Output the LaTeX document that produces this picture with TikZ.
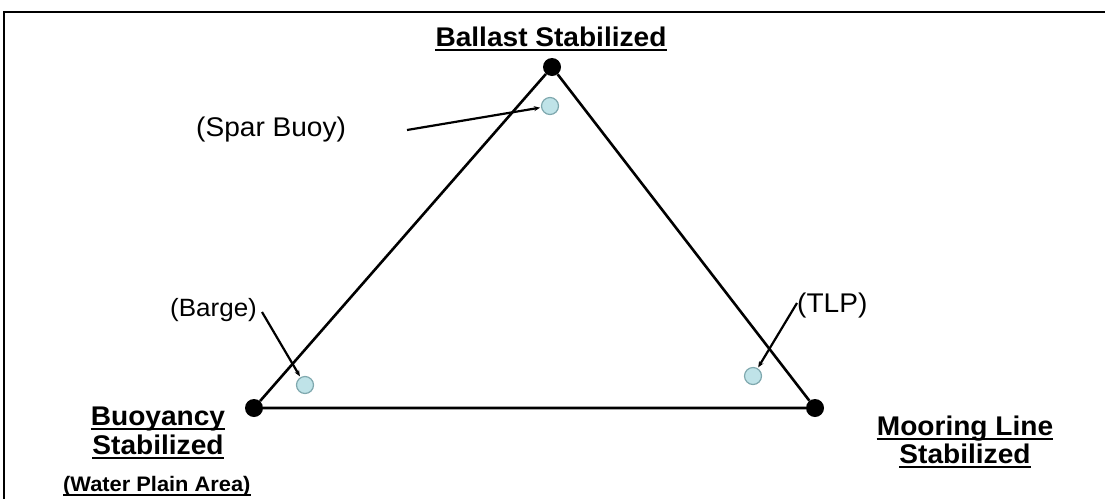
\documentclass[tikz,border=0pt]{standalone}
\usepackage{graphicx}
\usepackage{fontspec}
\setmainfont{Liberation Sans}
\usetikzlibrary{arrows.meta}
\newcommand{\hs}[1]{\scalebox{1.04}[1]{#1}}
\definecolor{buoyfill}{HTML}{BFE3E8}
\definecolor{buoyedge}{HTML}{7FA8AE}
\tikzset{
  vertex/.style={circle,fill=black,inner sep=0pt,minimum size=18pt},
  buoy/.style={circle,fill=buoyfill,draw=buoyedge,line width=1.2pt,inner sep=0pt,minimum size=17pt},
  edge/.style={line width=2.6pt,black},
  pointer/.style={line width=2.2pt,black,-{Stealth[length=6pt,width=5pt]},shorten >=1pt},
  lbl/.style={inner sep=0pt,font=\fontsize{27}{32}\selectfont},
  blbl/.style={inner sep=0pt,font=\fontsize{27}{32}\selectfont\bfseries},
  ul/.style={line width=2.6pt,black},
  frameline/.style={line width=2pt,black}
}
\begin{document}
\begin{tikzpicture}[x=1pt,y=-1pt]
\useasboundingbox (0,0) rectangle (1105,499);
% frame (top and left)
\coordinate (f1) at (1105,12);
\coordinate (f2) at (4,12);
\coordinate (f3) at (4,499);
\draw[frameline] (f1) -- (f2) -- (f3);
% vertices
\node[vertex] (top) at (552,67) {};
\node[vertex] (left) at (254,408) {};
\node[vertex] (right) at (815,408) {};
\draw[edge] (top) -- (left) -- (right) -- (top);
% buoys
\node[buoy] (spar) at (550,106) {};
\node[buoy] (barge) at (305,385) {};
\node[buoy] (tlp) at (753,376) {};
% labels
\node[blbl,anchor=base] (ballast) at (551,46) {\hs{Ballast Stabilized}};
\node[lbl,anchor=base west] (sparlbl) at (196,136) {\hs{(Spar Buoy)}};
\node[lbl,anchor=base west,font=\fontsize{25}{30}\selectfont] (bargelbl) at (170,316) {\hs{(Barge)}};
\node[lbl,anchor=base west] (tlplbl) at (797,312) {\hs{(TLP)}};
\node[blbl,anchor=base] (buoy1) at (158,425) {\hs{Buoyancy}};
\node[blbl,anchor=base] (buoy2) at (158,454) {\hs{Stabilized}};
\node[inner sep=0pt,anchor=base west,font=\fontsize{21}{25}\selectfont\bfseries] (water) at (63,491) {\hs{(Water Plain Area)}};
\node[blbl,anchor=base] (moor1) at (965,435) {\hs{Mooring Line}};
\node[blbl,anchor=base] (moor2) at (965,463) {\hs{Stabilized}};
% underlines
\foreach \n in {ballast,buoy1,buoy2,moor1,moor2}{
  \draw[ul] ([yshift=-4pt]\n.base west) -- ([yshift=-4pt]\n.base east);
}
\draw[line width=2pt] ([yshift=-3.5pt]water.base west) -- ([yshift=-3.5pt]water.base east);
% pointer lines
\coordinate (sparstart) at (407,130);
\coordinate (bargestart) at (262,312);
\coordinate (tlpstart) at (797,303);
\draw[pointer] (sparstart) -- (spar);
\draw[pointer] (bargestart) -- (barge);
\draw[pointer] (tlpstart) -- (tlp);
\end{tikzpicture}
\end{document}
